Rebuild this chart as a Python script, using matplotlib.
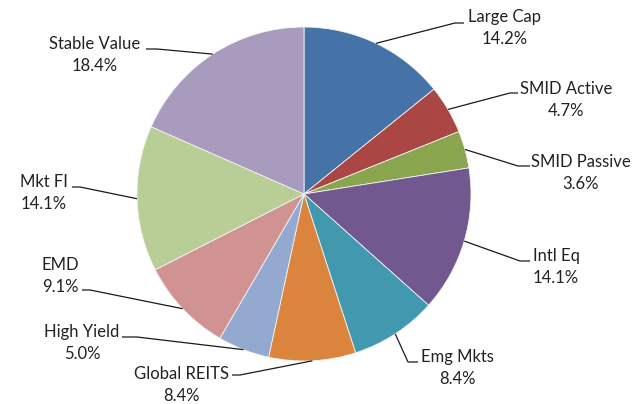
import numpy as np
import matplotlib
matplotlib.use("Agg")
import matplotlib.pyplot as plt

# Portfolio allocation by asset class (percent)
categories = ["Large Cap", "SMID Active", "SMID Passive", "Intl Eq", "Emg Mkts",
              "Global REITS", "High Yield", "EMD", "Mkt FI", "Stable Value"]
shares = [14.2, 4.7, 3.6, 14.1, 8.4, 8.4, 5.0, 9.1, 14.1, 18.4]
colors = ["#4572A7", "#AA4643", "#89A54E", "#71588F", "#4198AF",
          "#DB843D", "#93A9CF", "#D19392", "#B9CD96", "#A99BBD"]

W, H = 642, 404
CX, CY, R = 304, 194, 167  # pie centre / radius in pixel units (y from top)

# label layout in pixel units (y from top): text centre x, first-line y,
# leader elbow point and the end of its short horizontal run
label_layout = {
    "Large Cap":    dict(tx=505, ty=17,  elbow=(455, 23),  hend=464),
    "SMID Active":  dict(tx=566, ty=89,  elbow=(510, 93),  hend=518),
    "SMID Passive": dict(tx=581, ty=162, elbow=(518, 166), hend=530),
    "Intl Eq":      dict(tx=556, ty=256, elbow=(520, 261), hend=530),
    "Emg Mkts":     dict(tx=457, ty=357, elbow=(408, 362), hend=418),
    "Global REITS": dict(tx=182, ty=374, elbow=(240, 375), hend=232),
    "High Yield":   dict(tx=82,  ty=332, elbow=(137, 337), hend=122),
    "EMD":          dict(tx=60,  ty=265, elbow=(90, 290),  hend=82),
    "Mkt FI":       dict(tx=44,  ty=182, elbow=(80, 187),  hend=72),
    "Stable Value": dict(tx=95,  ty=44,  elbow=(157, 49),  hend=146),
}

plt.rcParams["font.family"] = ["Lato", "DejaVu Sans"]

fig = plt.figure(figsize=(W / 100, H / 100), dpi=100)
ax = fig.add_axes([0, 0, 1, 1])

def fy(y):
    return H - y

ax.pie(shares, colors=colors, startangle=90, counterclock=False,
       center=(CX, fy(CY)), radius=R,
       wedgeprops=dict(edgecolor="#f4f4f4", linewidth=0.6))

ax.set_xlim(0, W)
ax.set_ylim(0, H)
ax.set_aspect("equal")
ax.axis("off")

total = sum(shares)
cum = np.cumsum([0] + shares[:-1])
txt_color = "#222222"
for name, v, c0 in zip(categories, shares, cum):
    lay = label_layout[name]
    ang = np.deg2rad(90 - 360 * (c0 + v / 2) / total)
    px = CX + R * np.cos(ang)
    py = fy(CY) + R * np.sin(ang)
    ex, ey = lay["elbow"]
    ax.plot([px, ex, lay["hend"]], [py, fy(ey), fy(ey)],
            color="#1a1a1a", lw=0.9, solid_capstyle="butt", zorder=3)
    ax.text(lay["tx"], fy(lay["ty"]), name, ha="center", va="center",
            fontsize=12, color=txt_color)
    ax.text(lay["tx"], fy(lay["ty"] + 22), f"{v:.1f}%", ha="center", va="center",
            fontsize=12, color=txt_color)

fig.savefig("out.png", dpi=100, facecolor="white")
